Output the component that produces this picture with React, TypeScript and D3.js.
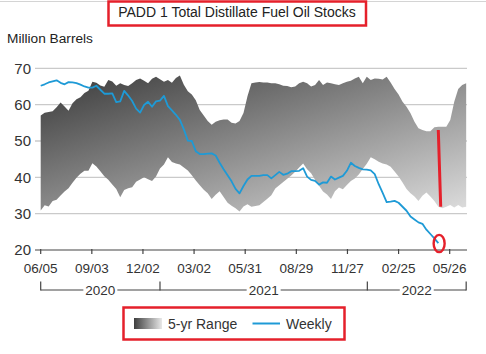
import React from "react";
import * as d3 from "d3";

const START = "2020-06-05";

const weekly = [
  65.2, 65.6, 66.1, 66.4, 66.7, 66.0, 65.6, 66.2, 66.1, 65.9,
  65.5, 65.0, 64.7, 64.7, 65.2, 64.1, 63.0, 63.0, 63.1, 60.7,
  60.9, 63.8, 62.5, 61.0, 58.9, 57.8, 59.9, 60.8, 59.4, 60.9,
  61.1, 62.4, 59.6, 58.4, 57.2, 55.8, 53.2, 50.1, 50.0, 47.2,
  46.4, 46.4, 46.5, 46.6, 46.0, 44.0, 42.2, 40.6, 38.9, 36.8,
  35.6, 37.6, 39.4, 40.4, 40.4, 40.4, 40.6, 40.6, 39.7, 40.6,
  41.5, 40.7, 41.0, 41.7, 41.7, 41.8, 42.5, 40.2, 39.3, 39.0,
  38.0, 38.6, 38.5, 40.2, 39.4, 39.9, 40.4, 41.8, 44.0, 43.1,
  42.6, 42.2, 42.1, 41.9, 40.9, 38.1, 35.7, 33.2, 33.3, 33.5,
  33.0, 31.9, 30.8, 29.2, 28.4, 27.6, 27.2, 25.6, 24.4, 23.2,
  21.9,
];

const rangeHigh = [
  57.0, 57.8, 58.0, 58.2, 59.3, 60.6, 59.5, 58.3, 60.4, 61.5,
  62.0, 63.2, 63.8, 66.3, 66.0, 65.3, 64.9, 66.8, 66.4, 65.2,
  65.9, 65.4, 65.1, 65.9, 66.8, 67.2, 66.6, 65.9, 67.1, 67.7,
  67.0, 66.3, 66.8, 66.0, 67.3, 68.0, 65.5, 63.7, 62.8, 61.2,
  58.5, 57.0, 55.5, 54.5, 55.3, 55.7, 55.9, 55.9, 55.0, 54.8,
  55.5, 57.7, 62.3, 65.9, 66.1, 66.2, 66.1, 66.1, 65.9, 65.9,
  65.6, 65.2, 65.1, 64.8, 65.0, 65.9, 66.3, 65.9, 65.0, 65.4,
  66.8, 65.4, 66.1, 65.9, 65.6, 65.4, 65.9, 66.3, 66.6, 67.2,
  67.7, 65.9, 67.7, 66.8, 67.2, 67.1, 66.9, 67.7, 66.1, 64.3,
  62.8, 60.8, 59.4, 57.6, 55.3, 53.5, 53.0, 52.7, 52.7, 53.8,
  53.9, 53.9, 53.9, 55.8, 60.8, 64.3, 65.4, 65.9,
];

const rangeLow = [
  30.9, 32.3, 32.0, 33.5, 33.8, 35.0, 36.1, 37.0, 38.5, 39.9,
  41.0, 41.8, 41.8, 43.9, 43.0, 41.7, 40.3, 39.3, 38.0, 36.8,
  34.5, 36.5, 37.0, 37.3, 38.8, 39.4, 40.0, 39.5, 39.0, 40.2,
  42.4, 43.5, 45.5, 44.2, 43.8, 43.5, 42.7, 41.9, 40.6, 39.1,
  37.8, 36.6, 35.6, 34.0, 35.2, 36.2, 34.6, 33.0, 32.2, 31.5,
  30.6, 32.0, 32.6, 31.9, 32.1, 32.3, 33.2, 34.1, 35.1, 36.9,
  37.8, 38.7, 39.6, 40.5, 41.5, 42.7, 43.8, 42.2, 41.1, 39.3,
  37.7, 36.1, 35.3, 34.0, 36.2, 37.2, 36.7, 37.9, 39.0, 39.7,
  40.8, 42.3, 43.7, 45.5, 45.0, 44.3, 43.8, 43.5, 42.9, 41.6,
  40.2, 38.6, 36.8, 35.6, 34.7, 33.5, 34.9, 35.8, 34.7, 33.5,
  31.9, 31.5, 31.9, 32.4, 31.7, 32.4, 31.7, 31.9,
];

const yTicks = [20, 30, 40, 50, 60, 70];
const xTickDates = [
  "2020-06-05", "2020-09-03", "2020-12-02", "2021-03-02", "2021-05-31",
  "2021-08-29", "2021-11-27", "2022-02-25", "2022-05-26",
];
const yearLabels = ["2020", "2021", "2022"];
const yearBounds = ["2020-06-05", "2021-01-01", "2022-01-01", "2022-06-24"];

const FONT = "'Liberation Sans', Arial, sans-serif";
const RED = "#e5202b";
const BLUE = "#1e9ad6";

export default function App() {
  const parse = (s: string) => new Date(s + "T00:00:00Z");
  const start = parse(START);
  const dateAt = (i: number) => d3.utcDay.offset(start, i * 7);

  const x = d3
    .scaleUtc()
    .domain([parse(xTickDates[0]), parse(xTickDates[xTickDates.length - 1])])
    .range([40.7, 449.7]);
  const y = d3.scaleLinear().domain([20, 70]).range([250, 68.3]);
  const fmt = d3.utcFormat("%m/%d");

  const rangeData = rangeHigh.map((h, i) => ({ d: dateAt(i), h, l: rangeLow[i] }));
  const areaPath = d3
    .area<{ d: Date; h: number; l: number }>()
    .x((p) => x(p.d))
    .y0((p) => y(p.l))
    .y1((p) => y(p.h))(rangeData) as string;

  const linePath = d3
    .line<number>()
    .x((_, i) => x(dateAt(i)))
    .y((v) => y(v))(weekly) as string;

  const gridX0 = 35;
  const gridX1 = 467;
  const lastW = weekly.length - 1;

  return (
    <svg
      width={486}
      height={354}
      style={{ position: "absolute", left: 0, top: 0, background: "#fff" }}
      fontFamily={FONT}
    >
      <defs>
        <linearGradient id="rangeGrad" gradientUnits="userSpaceOnUse" x1={45} y1={75} x2={131} y2={348}>
          <stop offset="0" stopColor="#3a3a3a" />
          <stop offset="1" stopColor="#f0f0f0" />
        </linearGradient>
        <linearGradient id="legGrad" x1="0" y1="0" x2="1" y2="0">
          <stop offset="0" stopColor="#3e3e3e" />
          <stop offset="1" stopColor="#e8e8e8" />
        </linearGradient>
      </defs>

      <rect x={0} y={0} width={486} height={354} fill="#fff" />
      <line x1={0} x2={486} y1={1.5} y2={1.5} stroke="#d4d4d4" strokeWidth={1} />

      {/* title */}
      <text x={237} y={17} textAnchor="middle" fontSize={14} fill="#222">
        PADD 1 Total Distillate Fuel Oil Stocks
      </text>
      <rect x={108.5} y={1.5} width={257.5} height={24} fill="none" stroke={RED} strokeWidth={2.5} />

      <text x={7} y={42.5} fontSize={13.7} fill="#222">
        Million Barrels
      </text>

      {/* grid */}
      {yTicks
        .filter((t) => t > 20)
        .map((t) => (
          <line key={t} x1={gridX0} x2={gridX1} y1={y(t)} y2={y(t)} stroke="#cacaca" strokeWidth={1.3} />
        ))}

      {/* y labels */}
      {yTicks.map((t) => (
        <text key={t} x={31} y={y(t) + 5.3} textAnchor="end" fontSize={15} fill="#333">
          {t}
        </text>
      ))}

      {/* range area */}
      <path d={areaPath} fill="url(#rangeGrad)" />

      {/* weekly line */}
      <path d={linePath} fill="none" stroke={BLUE} strokeWidth={1.8} strokeLinejoin="round" />

      {/* x axis */}
      <line x1={gridX0} x2={gridX1} y1={250} y2={250} stroke="#444" strokeWidth={1.2} />
      {xTickDates.map((s) => {
        const xx = x(parse(s));
        return (
          <g key={s}>
            <line x1={xx} x2={xx} y1={249} y2={254} stroke="#444" strokeWidth={1.2} />
            <text x={xx} y={272.5} textAnchor="middle" fontSize={13.5} fill="#333">
              {fmt(parse(s))}
            </text>
          </g>
        );
      })}

      {/* year brackets */}
      <line
        x1={x(parse(yearBounds[0]))}
        x2={x(parse(yearBounds[yearBounds.length - 1]))}
        y1={290}
        y2={290}
        stroke="#444"
        strokeWidth={1.2}
      />
      {yearBounds.map((s) => {
        const xx = x(parse(s));
        return <line key={s} x1={xx} x2={xx} y1={281.5} y2={290.5} stroke="#444" strokeWidth={1.2} />;
      })}
      {yearLabels.map((lab, i) => {
        const cx = (x(parse(yearBounds[i])) + x(parse(yearBounds[i + 1]))) / 2;
        return (
          <g key={lab}>
            <rect x={cx - 17} y={283} width={34} height={14} fill="#fff" />
            <text x={cx} y={295} textAnchor="middle" fontSize={13.5} fill="#333">
              {lab}
            </text>
          </g>
        );
      })}

      {/* legend */}
      <rect x={134} y={318} width={28} height={11} fill="url(#legGrad)" />
      <text x={168} y={329} fontSize={14} fill="#333">
        5-yr Range
      </text>
      <line x1={252.5} x2={280} y1={323.5} y2={323.5} stroke={BLUE} strokeWidth={2} />
      <text x={286} y={329} fontSize={14} fill="#333">
        Weekly
      </text>
      <rect x={123.5} y={307.5} width={221} height={32} fill="none" stroke={RED} strokeWidth={2.5} />

      {/* annotations */}
      <line x1={438.3} y1={130} x2={440.7} y2={206.7} stroke={RED} strokeWidth={3} />
      <ellipse
        cx={x(dateAt(lastW)) + 0.8}
        cy={y(weekly[lastW]) + 0.4}
        rx={5.5}
        ry={8.6}
        fill="none"
        stroke={RED}
        strokeWidth={2.4}
      />
    </svg>
  );
}
